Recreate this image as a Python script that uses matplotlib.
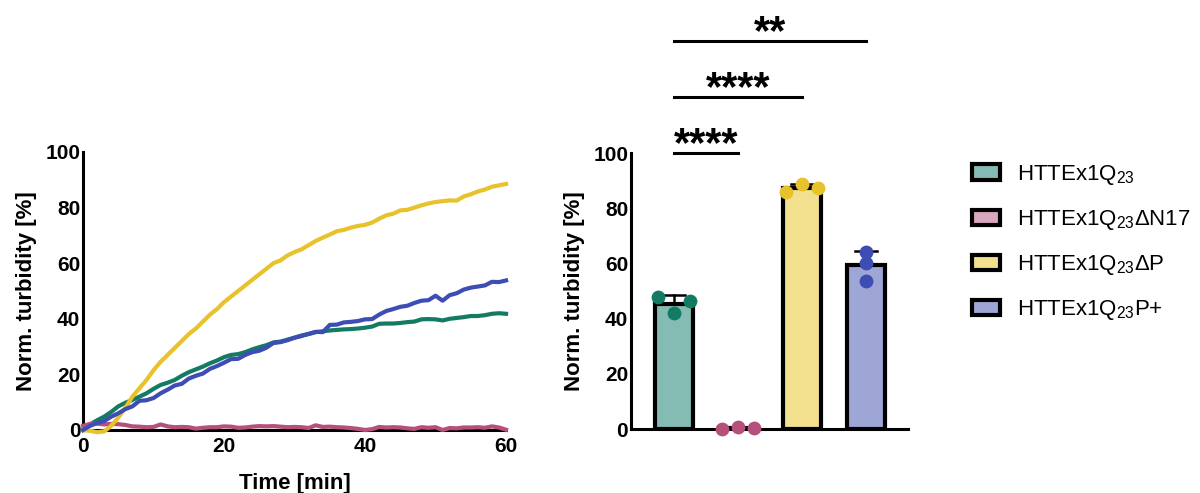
import matplotlib

matplotlib.use("Agg")
import matplotlib.pyplot as plt
from matplotlib.patches import Patch
import numpy as np

plt.rcParams["font.family"] = ["Liberation Sans", "DejaVu Sans"]
plt.rcParams["mathtext.fontset"] = "custom"
plt.rcParams["mathtext.rm"] = "Liberation Sans"

# kinetics, one reading per minute
time_min = list(range(61))
q23 = [0.0, 2.0, 3.5, 4.8, 6.5, 8.5, 9.8, 10.8, 12.0, 13.2, 14.8, 16.2, 17.0, 18.0, 19.5,
       20.8, 21.8, 22.8, 24.0, 25.0, 26.2, 27.0, 27.3, 28.0, 29.0, 29.8, 30.5, 31.5, 31.8,
       32.5, 33.2, 34.0, 34.5, 35.2, 35.5, 35.8, 36.0, 36.2, 36.3, 36.5, 36.8, 37.2, 38.2,
       38.3, 38.3, 38.5, 38.8, 39.0, 39.8, 39.9, 39.8, 39.4, 40.0, 40.3, 40.6, 41.0, 41.0,
       41.3, 41.8, 42.0, 41.8]
q23_dn17 = [1.5, 2.2, 2.3, 2.0, 2.2, 2.1, 1.8, 1.3, 1.2, 1.0, 1.1, 2.0, 1.3, 1.0, 1.1, 1.0,
            0.5, 0.8, 1.0, 1.0, 1.3, 1.2, 0.8, 0.9, 1.2, 1.4, 1.3, 1.4, 1.2, 1.0, 1.1, 1.0,
            0.7, 1.7, 1.1, 1.2, 1.0, 0.9, 0.7, 0.4, 0.0, 0.3, 1.1, 0.9, 1.0, 0.9, 0.6, 0.4,
            1.0, 0.8, 1.0, 0.0, 0.7, 0.6, 0.9, 0.9, 1.0, 0.8, 1.3, 0.9, 0.1]
q23_dp = [0.0, -0.3, -0.8, -0.5, 1.5, 4.5, 8.0, 12.0, 15.0, 18.0, 21.5, 24.5, 27.0, 29.5,
          32.0, 34.5, 36.5, 39.0, 41.5, 43.5, 46.0, 48.0, 50.0, 52.0, 54.0, 56.0, 58.0, 60.0,
          61.0, 62.8, 64.0, 65.0, 66.5, 68.0, 69.2, 70.3, 71.5, 72.0, 72.8, 73.4, 73.8, 74.6,
          76.0, 77.2, 77.8, 79.0, 79.2, 80.0, 80.8, 81.5, 82.0, 82.3, 82.6, 82.5, 84.0, 84.8,
          85.8, 86.5, 87.5, 88.0, 88.5]
q23_pplus = [0.0, 1.5, 2.5, 3.2, 4.8, 6.0, 7.5, 8.5, 10.5, 10.7, 11.5, 13.2, 14.5, 16.0,
             16.6, 18.5, 19.5, 20.3, 22.0, 23.0, 24.2, 25.5, 25.6, 27.0, 28.0, 28.5, 29.6,
             31.3, 31.6, 32.3, 33.2, 33.8, 34.6, 35.3, 35.2, 37.8, 37.9, 38.7, 38.9, 39.2,
             39.8, 39.9, 41.5, 42.8, 43.5, 44.3, 44.7, 45.7, 46.5, 46.7, 48.3, 46.5, 48.5,
             49.2, 50.5, 51.2, 51.6, 52.0, 53.3, 53.2, 53.8]

# end-point replicates
rep_q23 = [47.8, 42.0, 46.4]
rep_dn17 = [0.0, 0.8, 0.5]
rep_dp = [86.0, 88.7, 87.3]
rep_pplus = [64.2, 60.1, 53.6]

labels = [
    r"HTTEx1Q$_{\mathregular{23}}$",
    r"HTTEx1Q$_{\mathregular{23}}$ΔN17",
    r"HTTEx1Q$_{\mathregular{23}}$ΔP",
    r"HTTEx1Q$_{\mathregular{23}}$P+",
]
# (from bar, to bar, height, stars)
comparisons = [(0, 1, 100, "****"), (0, 2, 120.3, "****"), (0, 3, 140.6, "**")]

line_colors = ["#137B64", "#B5507D", "#E8C22A", "#3D4DB4"]
fill_colors = ["#84BCB4", "#D9A7BE", "#F2E08E", "#9EA6D6"]
# horizontal scatter of the replicate dots per bar
dot_offsets = [[-0.25, 0, 0.25], [-0.25, 0, 0.25], [-0.25, 0, 0.25], [0, 0, 0]]

fig = plt.figure(figsize=(12, 4.93), dpi=100)
ax1 = fig.add_axes([0.0692, 0.1278, 0.3525, 0.5639])
ax2 = fig.add_axes([0.5258, 0.1298, 0.2308, 0.5598])

for series, color in zip([q23, q23_dn17, q23_dp, q23_pplus], line_colors):
    ax1.plot(time_min, series, color=color, lw=3.0, clip_on=False, zorder=3)
ax1.set_xlim(0, 60)
ax1.set_ylim(0, 100)
ax1.set_xticks([0, 20, 40, 60])
ax1.set_yticks([0, 20, 40, 60, 80, 100])
ax1.set_xlabel("Time [min]", fontsize=16, fontweight="bold", labelpad=12)
ax1.set_ylabel("Norm. turbidity [%]", fontsize=16, fontweight="bold", labelpad=6)

reps = [rep_q23, rep_dn17, rep_dp, rep_pplus]
pos = np.arange(len(reps))
means = [np.mean(r) for r in reps]
sds = [np.std(r, ddof=1) for r in reps]
ax2.bar(pos, means, width=0.6, color=fill_colors, edgecolor="black", linewidth=3, zorder=2)
for x, m, s, r, c, offs in zip(pos, means, sds, reps, line_colors, dot_offsets):
    ax2.plot([x, x], [m, m + s], color="black", lw=1.8, zorder=3)
    ax2.plot([x - 0.17, x + 0.17], [m + s, m + s], color="black", lw=1.8, zorder=3)
    ax2.scatter([x + o for o in offs], r, s=80, color=c, zorder=4, clip_on=False)
for a, b, h, stars in comparisons:
    ax2.plot([a, b], [h, h], color="black", lw=2.2, clip_on=False)
    ax2.text((a + b) / 2, h - 1.1, stars, ha="center", va="baseline", fontsize=30,
             fontweight="bold", clip_on=False)
ax2.set_xlim(-0.67, 3.66)
ax2.set_ylim(0, 100)
ax2.set_xticks([])
ax2.set_yticks([0, 20, 40, 60, 80, 100])
ax2.set_ylabel("Norm. turbidity [%]", fontsize=16, fontweight="bold", labelpad=6)

for ax in (ax1, ax2):
    for side in ("top", "right"):
        ax.spines[side].set_visible(False)
    for side in ("left", "bottom"):
        ax.spines[side].set_linewidth(2.2)
    ax.tick_params(length=0, pad=2, labelsize=15)
    for lab in ax.get_xticklabels() + ax.get_yticklabels():
        lab.set_fontweight("bold")
ax1.tick_params(axis="x", pad=5)

handles = [Patch(facecolor=c, edgecolor="black", linewidth=3) for c in fill_colors]
fig.legend(handles, labels, loc="upper left", bbox_to_anchor=(0.793, 0.71), frameon=False,
           fontsize=16, handlelength=1.3, handleheight=0.7, handletextpad=0.75,
           labelspacing=0.95)

fig.savefig("out.png", dpi=100)
